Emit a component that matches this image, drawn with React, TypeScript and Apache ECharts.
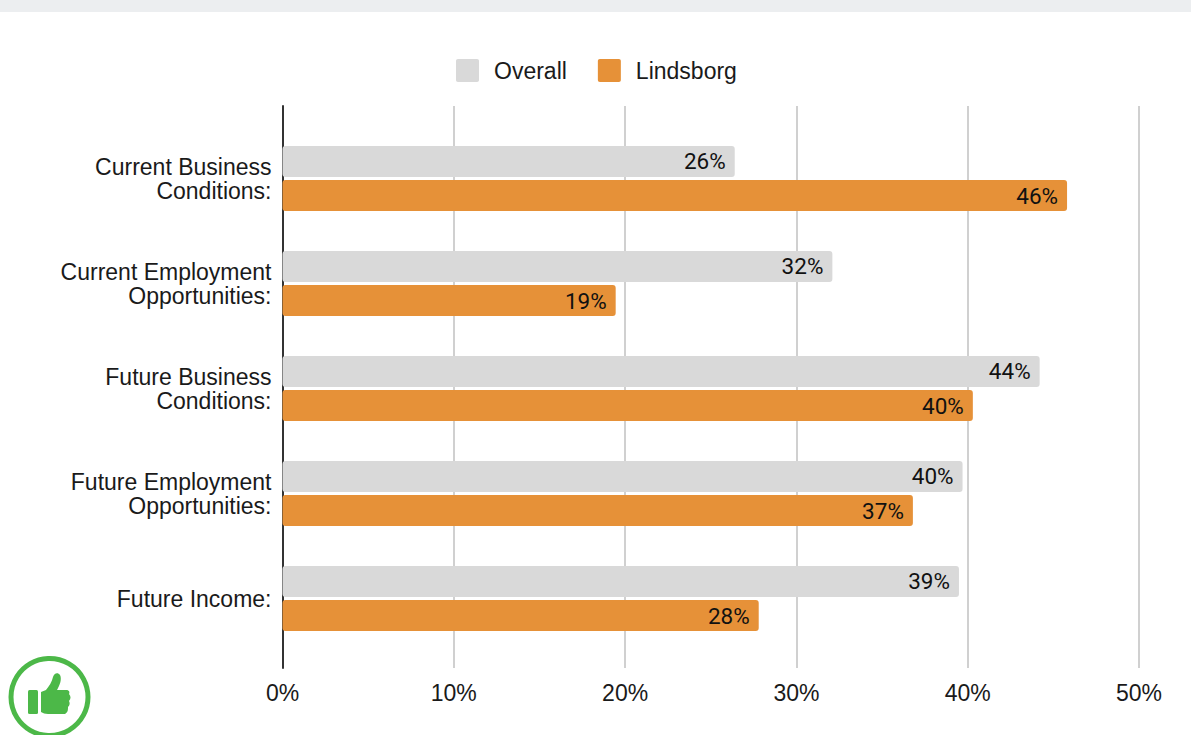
import React, { useEffect, useRef } from "react";
import * as echarts from "echarts";

const categories = [
  "Current Business\nConditions:",
  "Current Employment\nOpportunities:",
  "Future Business\nConditions:",
  "Future Employment\nOpportunities:",
  "Future Income:",
];
const overall = [26.4, 32.1, 44.2, 39.7, 39.49];
const lindsborg = [45.8, 19.45, 40.3, 36.8, 27.8];
const seriesNames = ["Overall", "Lindsborg"];

const FONT = '"Liberation Sans", Arial, sans-serif';
const LABEL_FONT = 'Roboto, "Liberation Sans", sans-serif';
const TEXT = "#1a1a1a";
const GREEN = "#4cb848";
const LEGEND_ICON =
  "path://M2 0 L21 0 C22.2 0 23 0.8 23 2 L23 21 C23 22.2 22.2 23 21 23 L2 23 C0.8 23 0 22.2 0 21 L0 2 C0 0.8 0.8 0 2 0 Z";

const THUMB =
  "M41 692 L46 690 C49 686 52 682 53 677 C54 673 58 672 60 675 C62 679 60 685 57 690 L66 690 C69 690 70 692 69 694 C71 696 71 699 69 701 C70 703 70 705 68 707 C68 710 68 712 65 714 L48 714 C45 714 43 713 41 712 Z";
echarts.graphic.registerShape("thumbUp", echarts.graphic.extendPath(THUMB, {}));

const barSeries = (name: string, data: number[], color: string) => ({
  name,
  type: "bar",
  xAxisIndex: 1,
  yAxisIndex: 1,
  data,
  barWidth: 31,
  barGap: "10%",
  itemStyle: { color, borderRadius: 3 },
  label: {
    show: true,
    position: "insideRight",
    distance: 9,
    color: "#111",
    fontFamily: LABEL_FONT,
    fontSize: 22.5,
    padding: [0, 0, 2, 0],
    formatter: (p: any) => `${Math.round(p.value)}%`,
  },
});

export default function App() {
  const ref = useRef<HTMLDivElement>(null);

  useEffect(() => {
    const chart = echarts.init(ref.current!, undefined, { renderer: "svg" });
    chart.setOption({
      animation: false,
      backgroundColor: "#fff",
      legend: {
        left: 451,
        top: 54,
        itemWidth: 23,
        itemHeight: 23,
        itemGap: 31,
        icon: LEGEND_ICON,
        data: seriesNames,
        textStyle: {
          fontFamily: FONT,
          fontSize: 23,
          color: TEXT,
          padding: [0, 0, 2, 10],
        },
      },
      grid: [
        { left: 282.5, right: 52, top: 106, bottom: 67 },
        { left: 282.5, right: 52, top: 126, bottom: 84 },
      ],
      xAxis: [
        {
          type: "value",
          gridIndex: 0,
          min: 0,
          max: 50,
          interval: 10,
          axisLine: { show: false },
          axisTick: { show: false },
          axisLabel: {
            margin: 13,
            fontFamily: FONT,
            fontSize: 23,
            color: TEXT,
            formatter: "{value}%",
          },
          splitLine: { lineStyle: { color: "#d0d0d0", width: 2 } },
        },
        {
          type: "value",
          gridIndex: 1,
          min: 0,
          max: 50,
          show: false,
        },
      ],
      yAxis: [
        {
          type: "category",
          gridIndex: 0,
          data: [""],
          axisLine: { show: true, lineStyle: { color: "#333", width: 2 } },
          axisTick: { show: false },
          axisLabel: { show: false },
        },
        {
          type: "category",
          gridIndex: 1,
          inverse: true,
          data: categories,
          axisLine: { show: false },
          axisTick: { show: false },
          axisLabel: {
            margin: 11,
            fontFamily: FONT,
            fontSize: 23,
            lineHeight: 24,
            color: TEXT,
            align: "right",
            padding: [0, 0, 3, 0],
          },
        },
      ],
      series: [
        barSeries(seriesNames[0], overall, "#d9d9d9"),
        barSeries(seriesNames[1], lindsborg, "#e69138"),
      ],
      graphic: [
        {
          type: "rect",
          silent: true,
          shape: { x: 0, y: 0, width: 1191, height: 12 },
          style: { fill: "#eceef0" },
        },
        {
          type: "circle",
          silent: true,
          shape: { cx: 49.5, cy: 697, r: 38.5 },
          style: { fill: "#fff", stroke: GREEN, lineWidth: 5 },
        },
        {
          type: "rect",
          silent: true,
          shape: { x: 28, y: 690, width: 10, height: 24, r: 1.5 },
          style: { fill: GREEN },
        },
        {
          type: "thumbUp",
          silent: true,
          x: 0,
          y: 0,
          style: { fill: GREEN },
        },
      ],
    });
    return () => chart.dispose();
  }, []);

  return (
    <div
      ref={ref}
      style={{ position: "absolute", left: 0, top: 0, width: 1191, height: 735 }}
    />
  );
}
